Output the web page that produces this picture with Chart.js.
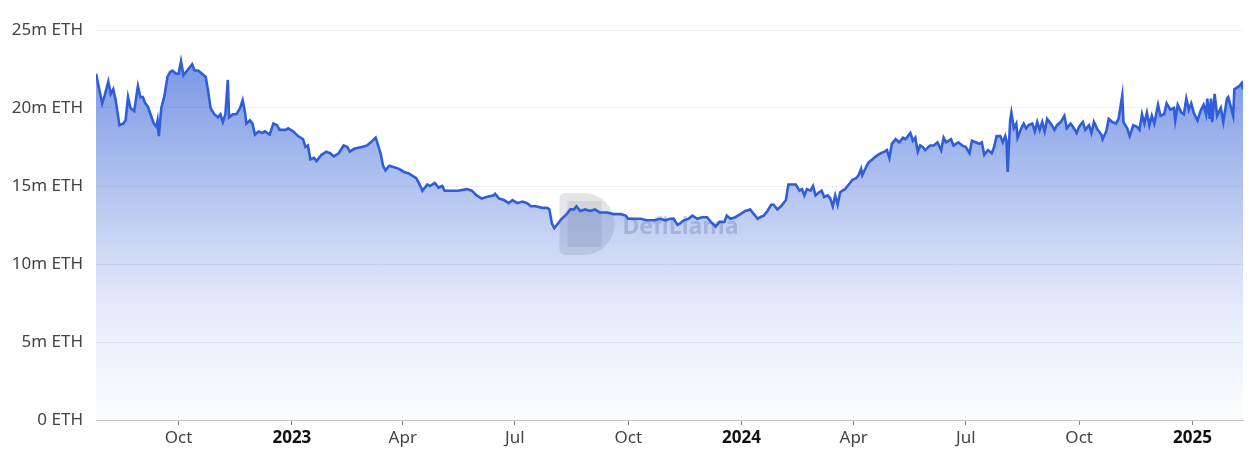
<!DOCTYPE html>
<html>
<head>
<meta charset="utf-8">
<script src="https://cdn.jsdelivr.net/npm/chart.js@4.4.1/dist/chart.umd.min.js"></script>
<style>
  html, body { margin: 0; padding: 0; background: #fff; }
</style>
</head>
<body>
<canvas id="grafica" width="1260" height="465"></canvas>
<script>
// dia 0 = 2022-07-26
const FECHA_INICIO = Date.UTC(2022, 6, 26);
const DIA_MS = 86400000;

const dias = [
  0, 5, 7, 10, 12, 14, 16, 19, 22, 24, 26, 28, 31, 34, 36, 38, 40, 42, 47, 49,
  50, 51, 53, 55, 56, 58, 60, 62, 65, 67, 69, 71, 74, 78, 80, 83, 86, 89, 91, 93,
  96, 99, 101, 103, 105, 107, 108, 111, 114, 117, 119, 121, 122, 125, 127, 129, 132, 135, 137, 141,
  144, 147, 149, 154, 156, 160, 164, 168, 170, 172, 174, 177, 179, 183, 187, 190, 193, 197, 201, 204,
  206, 210, 216, 220, 223, 227, 229, 231, 233, 235, 238, 242, 246, 250, 254, 256, 260, 262, 265, 269,
  271, 275, 278, 281, 283, 288, 294, 301, 305, 309, 313, 317, 323, 324, 327, 331, 335, 338, 342, 346,
  350, 353, 357, 362, 366, 368, 370, 372, 375, 378, 382, 385, 388, 390, 393, 397, 401, 405, 409, 415,
  420, 426, 430, 432, 436, 442, 447, 453, 458, 462, 466, 469, 472, 474, 477, 481, 484, 488, 492, 496,
  499, 503, 506, 510, 512, 515, 519, 523, 527, 531, 534, 537, 539, 542, 545, 548, 550, 553, 556, 560,
  562, 565, 568, 571, 573, 575, 577, 580, 582, 584, 587, 589, 591, 594, 596, 598, 600, 602, 604, 606,
  608, 611, 614, 617, 619, 621, 622, 625, 627, 630, 633, 637, 640, 642, 644, 646, 649, 652, 655, 657,
  659, 661, 663, 665, 667, 669, 671, 673, 677, 680, 683, 686, 688, 690, 694, 696, 700, 703, 706, 709,
  711, 714, 717, 719, 721, 724, 727, 729, 731, 734, 736, 738, 739, 740, 742, 743, 745, 747, 748, 751,
  753, 755, 757, 760, 762, 764, 766, 768, 770, 772, 775, 778, 780, 783, 786, 788, 791, 793, 796, 798,
  801, 803, 806, 808, 810, 813, 816, 817, 820, 822, 825, 828, 830, 833, 834, 837, 839, 842, 845, 847,
  849, 851, 853, 855, 857, 859, 862, 864, 867, 869, 872, 875, 876, 878, 881, 883, 885, 887, 889, 891,
  894, 897, 899, 901, 902, 904, 905, 906, 908, 910, 913, 915, 918, 919, 921, 923, 924, 926, 928, 930,
  931
];

// millones de ETH
const staked = [
  22.2, 20.3, 20.8, 21.7, 20.9, 21.2, 20.5, 18.9, 19.0, 19.2, 20.7, 20.0, 19.8, 21.4, 20.7, 20.7, 20.3, 20.1, 19.0, 18.8,
  19.2, 18.2, 20.0, 20.6, 21.0, 22.0, 22.3, 22.4, 22.2, 22.2, 23.0, 22.1, 22.4, 22.8, 22.4, 22.4, 22.2, 22.0, 21.1, 20.0,
  19.6, 19.4, 19.6, 19.1, 19.6, 21.8, 19.4, 19.6, 19.6, 20.0, 20.5, 19.7, 19.0, 19.2, 19.0, 18.3, 18.5, 18.4, 18.5, 18.3,
  19.0, 18.9, 18.6, 18.6, 18.7, 18.5, 18.2, 18.0, 17.5, 17.6, 16.7, 16.8, 16.6, 17.0, 17.2, 17.1, 16.9, 17.1, 17.6, 17.5,
  17.2, 17.4, 17.5, 17.6, 17.8, 18.1, 17.6, 17.1, 16.3, 16.0, 16.3, 16.2, 16.1, 15.9, 15.8, 15.7, 15.5, 15.2, 14.7, 15.1,
  15.0, 15.2, 14.9, 15.0, 14.7, 14.7, 14.7, 14.8, 14.7, 14.4, 14.2, 14.3, 14.4, 14.5, 14.2, 14.1, 13.9, 14.1, 13.9, 14.0,
  13.9, 13.7, 13.7, 13.6, 13.6, 13.5, 12.6, 12.3, 12.6, 12.9, 13.2, 13.5, 13.5, 13.7, 13.4, 13.5, 13.4, 13.5, 13.3, 13.3,
  13.2, 13.2, 13.1, 12.9, 12.9, 12.9, 12.8, 12.8, 12.9, 12.8, 12.9, 12.9, 12.5, 12.6, 12.8, 12.9, 13.1, 12.9, 13.0, 13.0,
  12.7, 12.4, 12.7, 12.7, 13.1, 12.9, 13.0, 13.2, 13.4, 13.5, 13.2, 12.9, 13.0, 13.1, 13.4, 13.8, 13.8, 13.5, 13.7, 14.1,
  15.1, 15.1, 15.1, 14.7, 14.8, 14.4, 14.8, 14.7, 15.0, 14.4, 14.6, 14.7, 14.3, 14.4, 14.2, 13.7, 14.4, 13.8, 14.6, 14.7,
  14.8, 15.1, 15.4, 15.5, 15.7, 16.1, 15.7, 16.2, 16.5, 16.7, 16.9, 17.1, 17.2, 17.3, 16.8, 17.7, 18.0, 17.8, 18.1, 18.0,
  18.2, 18.4, 17.9, 18.1, 17.2, 17.6, 17.5, 17.3, 17.6, 17.6, 17.8, 17.3, 18.1, 17.8, 18.0, 17.6, 17.8, 17.6, 17.5, 17.1,
  17.9, 17.8, 17.7, 17.8, 17.0, 17.3, 17.1, 17.5, 18.2, 18.2, 17.8, 18.2, 17.9, 15.9, 19.2, 19.7, 18.7, 19.0, 18.1, 18.7,
  19.0, 18.7, 18.9, 19.0, 18.5, 19.1, 18.6, 19.1, 18.5, 19.3, 19.0, 18.6, 18.9, 19.1, 19.5, 18.7, 19.0, 18.8, 18.4, 18.8,
  19.1, 18.6, 18.9, 18.4, 19.1, 18.6, 18.3, 18.0, 18.5, 19.3, 19.1, 19.0, 19.3, 20.8, 19.1, 18.7, 18.2, 18.9, 18.8, 18.6,
  19.6, 19.0, 19.7, 18.9, 19.5, 19.0, 20.2, 19.5, 19.6, 20.3, 19.9, 20.0, 19.2, 20.2, 19.7, 19.6, 20.6, 19.9, 20.3, 19.7,
  19.2, 19.9, 20.2, 19.6, 20.6, 19.3, 20.6, 19.1, 20.9, 19.5, 20.0, 19.1, 20.6, 20.7, 20.1, 19.5, 21.2, 21.3, 21.4, 21.6,
  21.2
];

const Y_TICKS = [0, 5, 10, 15, 20, 25];
const MESES = ["Jan", "Feb", "Mar", "Apr", "May", "Jun", "Jul", "Aug", "Sep", "Oct", "Nov", "Dec"];
// etiquetas trimestrales [anio, mes]
const TICKS_MESES = [
  [2022, 9], [2023, 0], [2023, 3], [2023, 6], [2023, 9],
  [2024, 0], [2024, 3], [2024, 6], [2024, 9], [2025, 0],
];

const FUENTE = "'Noto Sans', 'Open Sans', sans-serif";
const AZUL = "rgb(48, 94, 216)";

function diaDeFecha(anio, mes) {
  return (Date.UTC(anio, mes, 1) - FECHA_INICIO) / DIA_MS;
}
function fechaDeDia(dia) {
  return new Date(FECHA_INICIO + dia * DIA_MS);
}
function esAnio(c) {
  return !!(c && c.tick) && fechaDeDia(c.tick.value).getUTCMonth() === 0;
}
const ticksX = TICKS_MESES.map(([a, m]) => diaDeFecha(a, m));

// marca de agua DefiLlama
const marcaAgua = {
  id: "marcaAgua",
  beforeDatasetsDraw(chart) {
    const { ctx, chartArea } = chart;
    const cx = (chartArea.left + chartArea.right) / 2 - 20;
    const cy = (chartArea.top + chartArea.bottom) / 2;
    ctx.save();
    // logo
    ctx.fillStyle = "rgba(160, 160, 170, 0.28)";
    ctx.beginPath();
    const x0 = cx - 90, y0 = cy - 32, h = 62;
    ctx.moveTo(x0 + 6, y0);
    ctx.lineTo(x0 + 24, y0);
    ctx.arc(x0 + 24, y0 + h / 2, h / 2, -Math.PI / 2, Math.PI / 2);
    ctx.lineTo(x0 + 6, y0 + h);
    ctx.quadraticCurveTo(x0, y0 + h, x0, y0 + h - 6);
    ctx.lineTo(x0, y0 + 6);
    ctx.quadraticCurveTo(x0, y0, x0 + 6, y0);
    ctx.fill();
    ctx.fillStyle = "rgba(140, 140, 150, 0.2)";
    ctx.beginPath();
    ctx.rect(x0 + 8, y0 + 8, 34, h - 16);
    ctx.fill();
    // texto
    ctx.fillStyle = "rgba(120, 125, 145, 0.33)";
    ctx.font = "bold 23px " + FUENTE;
    ctx.textBaseline = "middle";
    ctx.fillText("DefiLlama", cx - 27, cy + 2);
    ctx.restore();
  },
};

function grafica_staking(id) {
  return new Chart(id, {
    type: "line",
    data: {
      datasets: [
        {
          data: dias.map((d, i) => ({ x: d, y: staked[i] })),
          borderColor: AZUL,
          borderWidth: 2.6,
          pointRadius: 0,
          tension: 0,
          fill: "origin",
          backgroundColor: (c) => {
            const area = c.chart.chartArea;
            if (!area) return "rgba(46,92,214,0.3)";
            const g = c.chart.ctx.createLinearGradient(0, area.top, 0, area.bottom);
            g.addColorStop(0, "rgba(46, 92, 214, 0.70)");
            g.addColorStop(0.4, "rgba(46, 92, 214, 0.37)");
            g.addColorStop(0.7, "rgba(46, 92, 214, 0.13)");
            g.addColorStop(1, "rgba(46, 92, 214, 0.01)");
            return g;
          },
        },
      ],
    },
    options: {
      responsive: false,
      animation: false,
      layout: { padding: { top: 30, right: 17, bottom: 0, left: 0 } },
      plugins: { legend: { display: false }, tooltip: { enabled: false } },
      scales: {
        x: {
          type: "linear",
          min: 0,
          max: dias[dias.length - 1],
          afterBuildTicks: (axis) => {
            axis.ticks = ticksX.map((v) => ({ value: v }));
          },
          afterFit: (axis) => {
            axis.height = 45;
          },
          border: { display: true, color: "#c8c8c8", width: 1 },
          grid: { drawOnChartArea: false, drawTicks: true, tickLength: 5, color: "#888" },
          ticks: {
            padding: 3,
            maxRotation: 0,
            autoSkip: false,
            color: (c) => (esAnio(c) ? "#111" : "#444"),
            font: (c) => ({
              family: FUENTE,
              size: 17,
              weight: esAnio(c) ? "bold" : "normal",
            }),
            callback: (v) => {
              const f = fechaDeDia(v);
              return f.getUTCMonth() === 0 ? String(f.getUTCFullYear()) : MESES[f.getUTCMonth()];
            },
          },
        },
        y: {
          min: Y_TICKS[0],
          max: Y_TICKS[Y_TICKS.length - 1],
          afterBuildTicks: (axis) => {
            axis.ticks = Y_TICKS.map((v) => ({ value: v }));
          },
          afterFit: (axis) => {
            axis.width = 96;
          },
          border: { display: false },
          grid: { color: "#f0f0f0", drawTicks: false },
          ticks: {
            padding: 13,
            color: "#444",
            font: { family: FUENTE, size: 17 },
            callback: (v) => (v === 0 ? "0 ETH" : v + "m ETH"),
          },
        },
      },
    },
    plugins: [marcaAgua],
  });
}

grafica_staking(document.getElementById("grafica"));
</script>
</body>
</html>
